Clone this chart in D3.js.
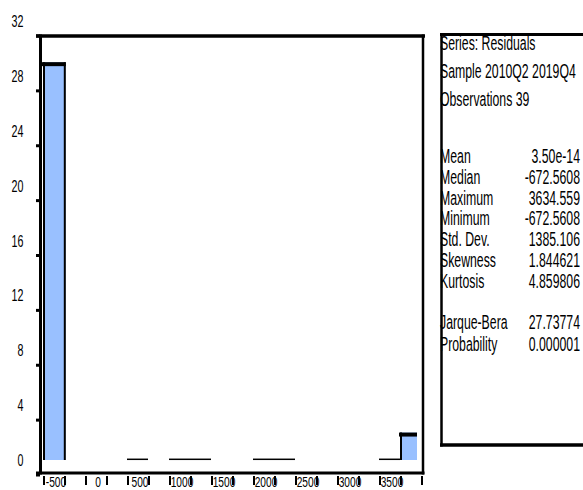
<!DOCTYPE html>
<html><head><meta charset="utf-8">
<script src="https://cdn.jsdelivr.net/npm/d3@7"></script>
<style>html,body{margin:0;padding:0;background:#fff}svg{display:block}</style>
</head><body>
<svg id="c" width="583" height="490"></svg>
<script>
// ---- data ----
const binStarts = [-750,-500,-250,0,250,500,750,1000,1250,1500,1750,2000,2250,2500,2750,3000,3250,3500];
const binWidth = 250;
// null = no bin drawn, 0 = empty bin drawn as flat line
const counts = [29,null,null,null,0,null,0,0,null,null,0,0,null,null,null,null,0,2];
const xTickValues = [-500,0,500,1000,1500,2000,2500,3000,3500];
const xMinorTicks = [-750,-500,-250,0,250,500,750,1000,1250,1500,1750,2000,2250,2500,2750,3000,3250,3500,3750];
const yTickValues = [0,4,8,12,16,20,24,28,32];
const headerLines = ["Series: Residuals","Sample 2010Q2 2019Q4","Observations 39"];
const statLabels = ["Mean","Median","Maximum","Minimum","Std. Dev.","Skewness","Kurtosis"];
const statValues = ["3.50e-14","-672.5608","3634.559","-672.5608","1385.106","1.844621","4.859806"];
const testLabels = ["Jarque-Bera","Probability"];
const testValues = ["27.73774","0.000001"];

// ---- drawing ----
const svg = d3.select("#c");
svg.append("rect").attr("width",583).attr("height",490).attr("fill","#fff");
const x = d3.scaleLinear().domain([-750,3750]).range([43,421]);
const y = d3.scaleLinear().domain([0,32]).range([460,21]);
const FONT = "'Liberation Sans', Arial, sans-serif";
const SX = 0.63;
function ctext(g, px, py, s, size, anchor, sx){
  g.append("text")
    .attr("transform",`translate(${px},${py}) scale(${sx||SX},1)`)
    .attr("text-anchor",anchor)
    .attr("font-family",FONT)
    .attr("font-size",size)
    .attr("fill","#000")
    .text(s);
}
const line = (x1,y1,x2,y2,w)=>svg.append("line").attr("x1",x1).attr("y1",y1).attr("x2",x2).attr("y2",y2).attr("stroke","#000").attr("stroke-width",w);

// clip for bars
svg.append("clipPath").attr("id","plotclip").append("rect").attr("x",36).attr("y",0).attr("width",417-36).attr("height",490);
const bars = svg.append("g").attr("clip-path","url(#plotclip)");
binStarts.forEach((s,i)=>{
  const v = counts[i];
  if(v===null) return;
  const x0 = x(s), x1 = x(s+binWidth);
  if(v===0){
    bars.append("line").attr("x1",x0).attr("x2",x1).attr("y1",459.3).attr("y2",459.3)
      .attr("stroke","#000").attr("stroke-width",1.5);
    return;
  }
  const yt = y(v), yb = y(0);
  bars.append("rect").attr("x",x0).attr("y",yt).attr("width",x1-x0+1.5).attr("height",yb-yt).attr("fill","#99c0ff");
  bars.append("line").attr("x1",x0+1).attr("x2",x0+1).attr("y1",yt).attr("y2",yb).attr("stroke","#000").attr("stroke-width",2);
  bars.append("line").attr("x1",x1+0.8).attr("x2",x1+0.8).attr("y1",yt).attr("y2",yb).attr("stroke","#000").attr("stroke-width",2);
  bars.append("line").attr("x1",x0-1).attr("x2",x1+1.8).attr("y1",yt+2).attr("y2",yt+2).attr("stroke","#000").attr("stroke-width",4);
});

// y labels and ticks
const g = svg.append("g");
yTickValues.forEach(v=>{
  ctext(g, 23.5, y(v)+6, String(v), 17, "end");
  line(36, y(v)+15, 40, y(v)+15, 3);
});
// x labels and ticks
xTickValues.forEach(v=>{
  ctext(g, x(v)-8, 486.5, String(v), 15, "middle", 0.68);
});
xMinorTicks.forEach(v=>{
  line(x(v)+1, 476, x(v)+1, 485, 2);
});

// frame
line(36,36,425,36,3.5);
line(40.5,34.5,40.5,474.5,3);
line(36,473,424.5,473,3);
line(423,34.5,423,474.5,2.5);

// stats text
headerLines.forEach((s,i)=>ctext(g, 440, 50 + i*28, s, 19.5, "start"));
statLabels.forEach((s,i)=>{
  ctext(g, 440, 163 + i*20.8, s, 19.5, "start");
  ctext(g, 580, 163 + i*20.8, statValues[i], 19.5, "end");
});
testLabels.forEach((s,i)=>{
  ctext(g, 440, 329.4 + i*21.5, s, 19.5, "start");
  ctext(g, 580, 329.4 + i*21.5, testValues[i], 19.5, "end");
});
// stats box
line(441.5,33,441.5,446.5,2.5);
line(440,34.5,583,34.5,3);
line(440,445,583,445,3.5);
</script>
</body></html>
